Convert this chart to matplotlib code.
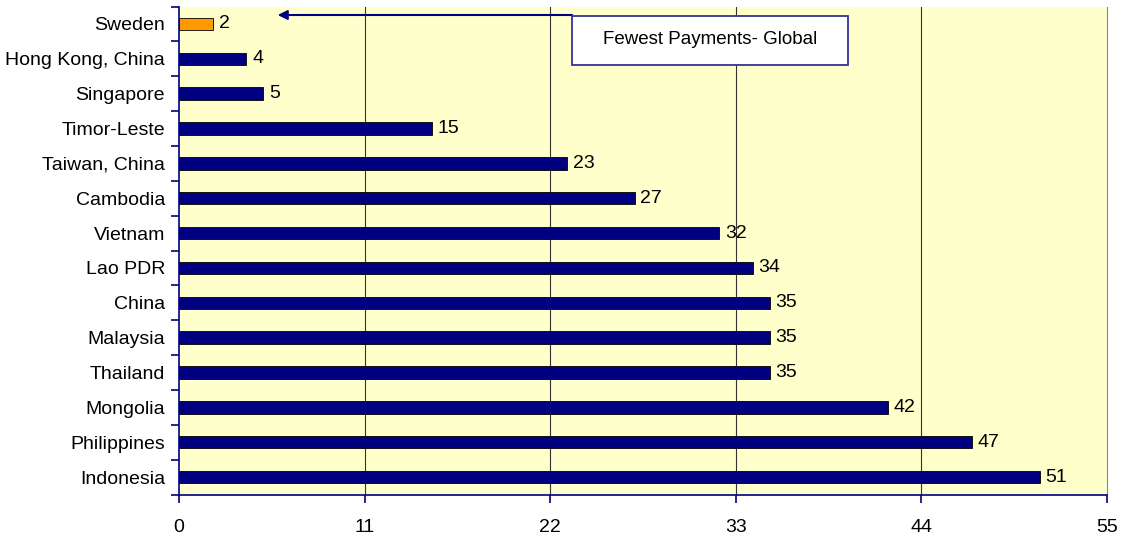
import matplotlib.pyplot as plt
from matplotlib.patches import Rectangle
import numpy as np

plt.rcParams["font.family"] = ["Liberation Sans", "DejaVu Sans"]

countries = ["Sweden", "Hong Kong, China", "Singapore", "Timor-Leste", "Taiwan, China",
             "Cambodia", "Vietnam", "Lao PDR", "China", "Malaysia", "Thailand",
             "Mongolia", "Philippines", "Indonesia"]
payments = [2, 4, 5, 15, 23, 27, 32, 34, 35, 35, 35, 42, 47, 51]
xticks = [0, 11, 22, 33, 44, 55]

navy = "#000080"
colors = ["#FF9900"] + [navy] * (len(countries) - 1)
fs = 14

fig = plt.figure(figsize=(11.21, 5.39), dpi=100)
ax = fig.add_axes([179 / 1121, 1 - 494.5 / 539, 928 / 1121, 488 / 539])
ax.set_facecolor("#FFFFCC")

y = np.arange(len(countries))
ax.barh(y, payments, height=0.36, color=colors, edgecolor="black", linewidth=0.6, zorder=3)
for yi, v in zip(y, payments):
    ax.text(v + 0.35, yi, str(v), va="center", ha="left", fontsize=fs, zorder=4)

ax.set_xlim(0, 55)
ax.set_ylim(len(countries) - 0.5, -0.5)
ax.set_xticks(xticks)
ax.set_xticklabels([str(t) for t in xticks], fontsize=fs)
ax.set_yticks(y)
ax.set_yticklabels(countries, fontsize=fs)
ax.set_yticks(np.arange(len(countries) + 1) - 0.5, minor=True)
ax.tick_params(axis="y", which="major", length=0, pad=10)
ax.tick_params(axis="y", which="minor", length=6, color=navy, width=1.2, direction="out")
ax.tick_params(axis="x", length=6, color=navy, width=1.2, direction="out", pad=12)

for xv in xticks[1:-1]:
    ax.axvline(xv, color="#333333", linewidth=0.8, zorder=1)

ax.spines["top"].set_visible(False)
ax.spines["right"].set_color("#888888")
ax.spines["right"].set_linewidth(0.8)
for s in ["left", "bottom"]:
    ax.spines[s].set_color(navy)
    ax.spines[s].set_linewidth(1.2)

# annotation: arrow from the text box pointing at Sweden's bar
ax.annotate("", xy=(5.85, -0.256), xytext=(23.3, -0.256),
            arrowprops=dict(arrowstyle="-|>", color=navy, lw=1.5, mutation_scale=14,
                            shrinkA=0, shrinkB=0), zorder=5)
ax.add_patch(Rectangle((23.3, -0.227), 16.35, 1.41, facecolor="white",
                       edgecolor="#333399", linewidth=1.3, zorder=6))
ax.text(31.47, 0.46, "Fewest Payments- Global", ha="center", va="center",
        fontsize=fs - 0.5, zorder=7)

fig.savefig("out.png", dpi=100)
